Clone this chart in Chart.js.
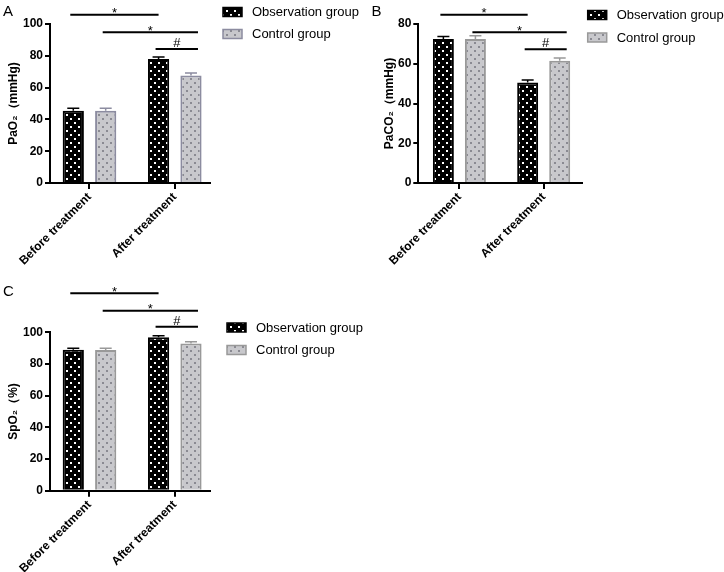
<!DOCTYPE html>
<html>
<head>
<meta charset="utf-8">
<script src="https://cdn.jsdelivr.net/npm/chart.js@4.4.0/dist/chart.umd.min.js"></script>
<style>
  html, body { margin: 0; padding: 0; background: #fff; }
  #wrap { position: relative; width: 724px; height: 572px; }
  canvas { position: absolute; }
</style>
</head>
<body>
<div id="wrap">
  <canvas id="chartA" width="360" height="280" style="left:0;top:0"></canvas>
  <canvas id="chartB" width="364" height="280" style="left:360px;top:0"></canvas>
  <canvas id="chartC" width="380" height="292" style="left:0;top:280px"></canvas>
</div>
<script>
const FONT = '"Liberation Sans", Arial, Helvetica, sans-serif';

const categories = ['Before treatment', 'After treatment'];
const groupNames = ['Observation group', 'Control group'];

// PaO2 (mmHg)
const pao2Obs = [45.5, 78.0];
const pao2ObsErr = [1.5, 1.2];
const pao2Ctrl = [45.5, 67.6];
const pao2CtrlErr = [1.5, 1.6];

// PaCO2 (mmHg)
const paco2Obs = [72.5, 50.6];
const paco2ObsErr = [1.2, 1.2];
const paco2Ctrl = [72.4, 61.5];
const paco2CtrlErr = [1.7, 1.4];

// SpO2 (%)
const spo2Obs = [89.0, 96.8];
const spo2ObsErr = [0.9, 1.1];
const spo2Ctrl = [88.8, 93.0];
const spo2CtrlErr = [1.2, 1.1];

// significance marks: [dataset, category] -> [dataset, category]
const sigMarks = [
    { from: [0, 0], to: [0, 1], mark: '*' },
    { from: [1, 0], to: [1, 1], mark: '*' },
    { from: [0, 1], to: [1, 1], mark: '#' }
];

function makePattern(bg, dot) {
    const tile = document.createElement('canvas');
    tile.width = 8;
    tile.height = 8;
    const t = tile.getContext('2d');
    t.fillStyle = bg;
    t.fillRect(0, 0, 8, 8);
    t.fillStyle = dot;
    t.fillRect(2, 2, 2, 2);
    t.fillRect(6, 6, 2, 2);
    return t.createPattern(tile, 'repeat');
}

const panelExtras = {
    id: 'panelExtras',
    afterDatasetsDraw(chart, args, opts) {
        const ctx = chart.ctx;
        const yScale = chart.scales.y;
        ctx.save();
        chart.data.datasets.forEach((ds, di) => {
            const meta = chart.getDatasetMeta(di);
            meta.data.forEach((bar, i) => {
                const top = yScale.getPixelForValue(ds.data[i].y + ds.errors[i]);
                ctx.strokeStyle = ds.borderColor;
                ctx.lineWidth = 1.5;
                ctx.beginPath();
                ctx.moveTo(bar.x, bar.y);
                ctx.lineTo(bar.x, top);
                ctx.moveTo(bar.x - 6, top);
                ctx.lineTo(bar.x + 6, top);
                ctx.stroke();
            });
        });
        ctx.restore();
    },
    afterDraw(chart, args, opts) {
        const ctx = chart.ctx;
        ctx.save();

        // panel letter
        ctx.fillStyle = '#000';
        ctx.font = '15px ' + FONT;
        ctx.textAlign = 'left';
        ctx.textBaseline = 'top';
        ctx.fillText(opts.letter, opts.letterX, opts.letterY);

        // significance brackets
        sigMarks.forEach((s, k) => {
            const a = chart.getDatasetMeta(s.from[0]).data[s.from[1]];
            const b = chart.getDatasetMeta(s.to[0]).data[s.to[1]];
            const x1 = a.x - 3;
            const x2 = b.x + (s.to[0] === 1 ? 7 : 0);
            const y = opts.bracketRows[k];
            ctx.strokeStyle = '#000';
            ctx.lineWidth = 2;
            ctx.beginPath();
            ctx.moveTo(x1, y);
            ctx.lineTo(x2, y);
            ctx.stroke();
            ctx.font = '13px ' + FONT;
            ctx.textAlign = 'center';
            ctx.textBaseline = 'alphabetic';
            ctx.fillText(s.mark, (x1 + x2) / 2, s.mark === '*' ? y + 2.5 : y - 2);
        });

        // legend
        chart.data.datasets.forEach((ds, di) => {
            const cy = opts.legendRows[di];
            ctx.fillStyle = ds.backgroundColor;
            ctx.fillRect(opts.legendX, cy - 4.5, 19, 9);
            ctx.strokeStyle = ds.borderColor;
            ctx.lineWidth = 1.5;
            ctx.strokeRect(opts.legendX, cy - 4.5, 19, 9);
            ctx.fillStyle = '#000';
            ctx.font = '13px ' + FONT;
            ctx.textAlign = 'left';
            ctx.textBaseline = 'middle';
            ctx.fillText(ds.label, opts.legendX + 29, cy + 0.5);
        });
        ctx.restore();
    }
};

function toPoints(values) {
    return values.map((v, i) => ({ x: i, y: v }));
}

function makePanel(id, p) {
    const tickFont = { family: FONT, size: 12, weight: 'bold' };
    return new Chart(document.getElementById(id), {
        type: 'bar',
        data: {
            datasets: [{
                label: groupNames[0],
                data: toPoints(p.obs),
                errors: p.obsErr,
                backgroundColor: makePattern('#000', '#fff'),
                borderColor: '#000',
                borderWidth: 2
            }, {
                label: groupNames[1],
                data: toPoints(p.ctrl),
                errors: p.ctrlErr,
                backgroundColor: makePattern('#c8c8cc', '#8a8a92'),
                borderColor: p.ctrlBorder,
                borderWidth: 2
            }]
        },
        options: {
            responsive: false,
            animation: false,
            devicePixelRatio: 1,
            datasets: {
                bar: { categoryPercentage: 0.76, barPercentage: 0.655 }
            },
            layout: { padding: p.padding },
            plugins: {
                legend: { display: false },
                tooltip: { enabled: false },
                panelExtras: {
                    letter: p.letter,
                    letterX: p.letterX,
                    letterY: 4,
                    bracketRows: p.bracketRows,
                    legendX: p.legendX,
                    legendRows: p.legendRows
                }
            },
            scales: {
                x: {
                    type: 'linear',
                    offset: false,
                    bounds: 'data',
                    min: p.xMin,
                    max: p.xMax,
                    afterBuildTicks: scale => {
                        scale.ticks = categories.map((c, i) => ({ value: i }));
                    },
                    afterFit: scale => { scale.height = p.xHeight; },
                    grid: { drawOnChartArea: false, offset: false, tickLength: 6, lineWidth: 2, color: '#000' },
                    border: { color: '#000', width: 2 },
                    ticks: {
                        callback: v => categories[v],
                        autoSkip: false,
                        minRotation: 45,
                        maxRotation: 45,
                        padding: 1,
                        color: '#000',
                        font: tickFont
                    }
                },
                y: {
                    min: 0,
                    max: p.yMax,
                    afterFit: scale => { scale.width = p.yWidth; },
                    grid: { drawOnChartArea: false, tickLength: 5, lineWidth: 2, color: '#000' },
                    border: { color: '#000', width: 2 },
                    ticks: { stepSize: 20, padding: 2, color: '#000', font: tickFont },
                    title: {
                        display: true,
                        text: p.yTitle,
                        color: '#000',
                        font: { family: FONT, size: 12, weight: 'bold' },
                        padding: { top: p.titlePad, bottom: 0 }
                    }
                }
            }
        },
        plugins: [panelExtras]
    });
}

makePanel('chartA', {
    letter: 'A', letterX: 3,
    obs: pao2Obs, obsErr: pao2ObsErr, ctrl: pao2Ctrl, ctrlErr: pao2CtrlErr,
    ctrlBorder: '#8c8ca0',
    yMax: 100, yTitle: 'PaO₂（mmHg)', titlePad: 6,
    padding: { left: 0, top: 24, right: 150, bottom: 0 },
    yWidth: 50, xHeight: 97, xMin: -0.463, xMax: 1.413,
    bracketRows: [14.7, 32.3, 49],
    legendX: 223, legendRows: [12, 34]
});

makePanel('chartB', {
    letter: 'B', letterX: 11.5,
    obs: paco2Obs, obsErr: paco2ObsErr, ctrl: paco2Ctrl, ctrlErr: paco2CtrlErr,
    ctrlBorder: '#999999',
    yMax: 80, yTitle: 'PaCO₂（mmHg)', titlePad: 22,
    padding: { left: 0, top: 24, right: 142.3, bottom: 0 },
    yWidth: 58.3, xHeight: 97, xMin: -0.4875, xMax: 1.451,
    bracketRows: [14.7, 32.3, 49.3],
    legendX: 227.7, legendRows: [15, 37.5]
});

makePanel('chartC', {
    letter: 'C', letterX: 3,
    obs: spo2Obs, obsErr: spo2ObsErr, ctrl: spo2Ctrl, ctrlErr: spo2CtrlErr,
    ctrlBorder: '#999999',
    yMax: 100, yTitle: 'SpO₂（%)', titlePad: 6,
    padding: { left: 0, top: 52.3, right: 170, bottom: 0 },
    yWidth: 50, xHeight: 81.3, xMin: -0.463, xMax: 1.413,
    bracketRows: [13.3, 30.7, 46.7],
    legendX: 227, legendRows: [47.5, 70]
});
</script>
</body>
</html>
